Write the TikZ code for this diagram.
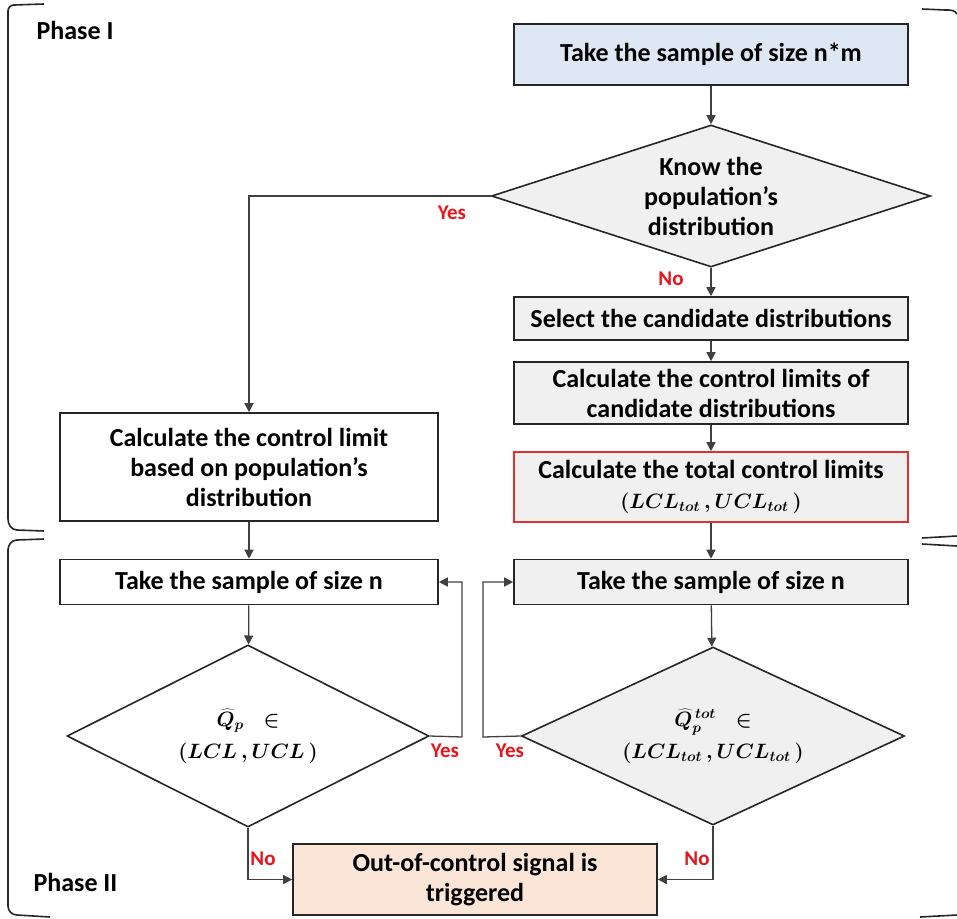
\documentclass[tikz,border=0pt]{standalone}
\usepackage{fontspec}
\setmainfont{Carlito}
\usetikzlibrary{arrows.meta,shapes.geometric}
\definecolor{bluefill}{HTML}{DEE8F4}
\definecolor{grayfill}{HTML}{F0F0F0}
\definecolor{peach}{HTML}{FBE5D6}
\definecolor{lblred}{HTML}{E8141B}
\definecolor{boxred}{HTML}{E03030}
\newcommand\mymathsize{\fontsize{22}{30}\selectfont}
\begin{document}
\begin{tikzpicture}[x=1pt,y=-1pt,
  txt/.style={font=\fontsize{26}{30}\selectfont\bfseries\boldmath, align=center},
  box/.style={txt, draw=black!85, line width=1.6pt, rectangle, inner sep=2pt},
  dia/.style={txt, draw=black!85, line width=1.6pt, diamond, inner sep=0pt},
  conn/.style={draw=black!75, line width=1.3pt},
  arr/.style={conn, -{Triangle[length=9pt,width=9pt]}},
  lbl/.style={font=\fontsize{21}{24}\selectfont\bfseries, text=lblred},
  phase/.style={font=\fontsize{26}{30}\selectfont\bfseries},
  brk/.style={draw=black!85, line width=1.6pt}
]
\useasboundingbox (0,0) rectangle (957,918);

% brackets
\draw[brk] (44,4) -- (14,5) to[out=180,in=90] (8,11) -- (8,519) to[out=-90,in=180] (17,530) -- (44,531);
\draw[brk] (44,539) -- (17,540) to[out=180,in=90] (8,550) -- (8,906) to[out=-90,in=180] (17,915) -- (50,917);
\draw[brk] (922,9) -- (945,10) to[out=0,in=120] (957,14);
\draw[brk] (922,538) -- (957,536);
\draw[brk] (922,544) -- (957,546);
\draw[brk] (920,917) -- (957,915);

\node[phase, anchor=west] (ph1) at (33,30) {Phase I};
\node[phase, anchor=west] (ph2) at (30,882) {Phase II};

% right column
\node[box, fill=bluefill, minimum width=394pt, minimum height=61pt] (b1) at (711,54.5) {Take the sample of size n*m};
\node[dia, fill=grayfill, minimum width=439pt, minimum height=142pt, shape aspect=3.1] (d1) at (711,196) {Know the\\population’s\\distribution};
\node[box, fill=grayfill, minimum width=394pt, minimum height=43pt] (b3) at (711,318.5) {Select the candidate distributions};
\node[box, fill=grayfill, minimum width=394pt, minimum height=62pt] (b4) at (711,393) {Calculate the control limits of\\candidate distributions};
\node[box, draw=boxred, fill=grayfill, minimum width=394pt, minimum height=70pt] (b5) at (711,487) {Calculate the total control limits\\{}{\mymathsize$(LCL_{tot}\,, UCL_{tot}\,)$}};
\node[box, fill=grayfill, minimum width=394pt, minimum height=45pt] (b8) at (711,582) {Take the sample of size n};
\node[dia, fill=grayfill, minimum width=383pt, minimum height=178pt, shape aspect=2.15] (d3) at (713,736) {{}{\mymathsize$\widehat{Q}_p^{\,tot}\;\;\in$}\\[2pt]{}{\mymathsize$(LCL_{tot}\,, UCL_{tot}\,)$}};

% left column
\node[box, fill=white, minimum width=378pt, minimum height=108pt] (b6) at (249,467) {Calculate the control limit\\based on population’s\\distribution};
\node[box, fill=white, minimum width=378pt, minimum height=45pt] (b7) at (249,582) {Take the sample of size n};
\node[dia, fill=white, minimum width=362pt, minimum height=182pt, shape aspect=2] (d2) at (248,736) {{}{\mymathsize$\widehat{Q}_p\;\;\in$}\\[2pt]{}{\mymathsize$(LCL\,, UCL\,)$}};

% bottom
\node[box, fill=peach, minimum width=364pt, minimum height=71pt] (b9) at (475,879.5) {Out-of-control signal is\\triggered};

% connectors
\draw[arr] (b1) -- (d1);
\draw[arr] (d1) -- (b3);
\draw[arr] (b3) -- (b4);
\draw[arr] (b4) -- (b5);
\draw[arr] (b5) -- (b8);
\draw[arr] (b8) -- (d3);
\draw[arr] (d1.west) -| (b6.north);
\draw[arr] (b6) -- (b7);
\draw[arr] (b7) -- (d2);
\coordinate (c1) at (462,737);
\coordinate (c2) at (483,737);
\draw[arr] (d2.east) -- (c1) |- (b7.east);
\draw[arr] (d3.west) -- (c2) |- (b8.west);
\draw[arr] (d2.south) |- (b9.west);
\draw[arr] (d3.south) |- (b9.east);

% labels
\node[lbl] (ly1) at (452,213) {Yes};
\node[lbl] (ln1) at (671,279) {No};
\node[lbl] (ly2) at (445,751) {Yes};
\node[lbl] (ly3) at (510,751) {Yes};
\node[lbl] (ln2) at (263,859) {No};
\node[lbl] (ln3) at (697,859) {No};
\end{tikzpicture}
\end{document}
